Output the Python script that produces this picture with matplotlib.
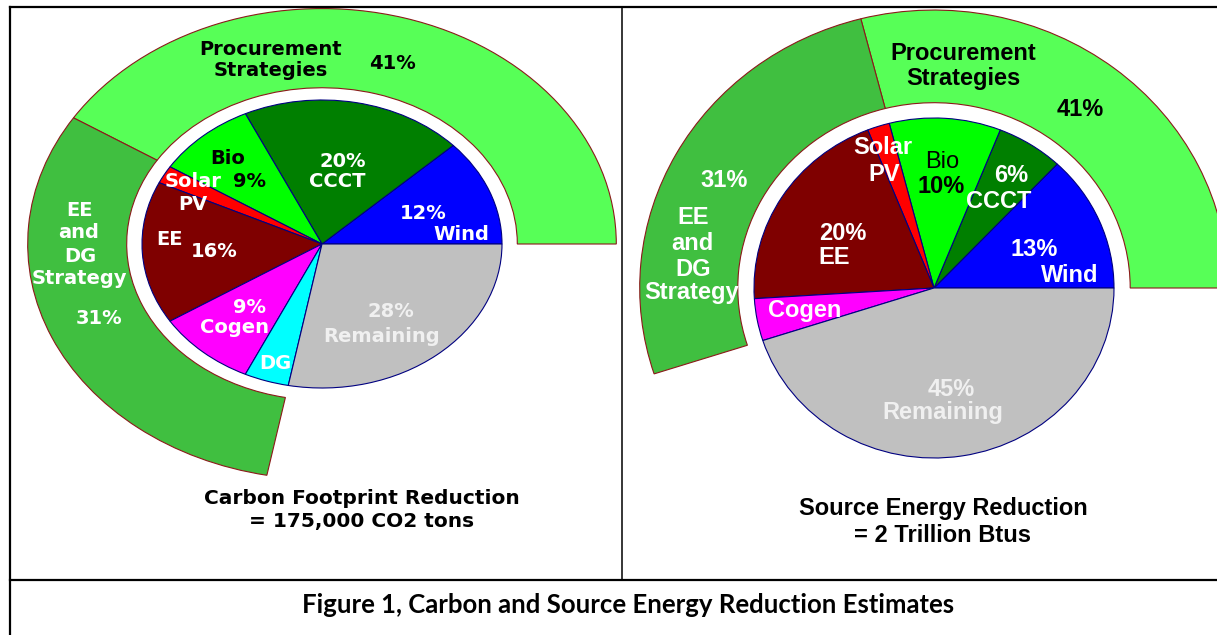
import matplotlib.pyplot as plt
from matplotlib.lines import Line2D

W, H = 1217, 635

# left panel: carbon footprint reduction (percent of total)
left_segments = ["Wind", "CCCT", "Bio", "Solar PV", "EE", "Cogen", "DG", "Remaining"]
left_share = [12, 20, 9, 2, 16, 9, 4, 28]
left_ring = [41, 31, 28]          # procurement, EE and DG strategy, rest

# right panel: source energy reduction
right_segments = ["Wind", "CCCT", "Bio", "Solar PV", "EE", "Cogen", "Remaining"]
right_share = [13, 6, 10, 2, 20, 4, 45]
right_ring = [29, 26, 45]

seg_colors = {"Wind": "#0000FF", "CCCT": "#007F00", "Bio": "#00FF00",
              "Solar PV": "#FF0000", "EE": "#7F0000", "Cogen": "#FF00FF",
              "DG": "#00FFFF", "Remaining": "#C0C0C0"}
ring_colors = ["#57FF57", "#40BF40", "none"]

fig = plt.figure(figsize=(W / 100, H / 100), dpi=100)


def px_axes(x0, y0, x1, y1):
    # pixel box (top-left origin) -> axes
    return fig.add_axes([x0 / W, 1 - y1 / H, (x1 - x0) / W, (y1 - y0) / H])


def draw_chart(ax, share, names, ring, r_in, r_out, xlim, ylim):
    wedges, _ = ax.pie(ring, radius=r_out, colors=ring_colors, startangle=0,
                       wedgeprops=dict(width=r_out - r_in, edgecolor="#8B1A1A", linewidth=0.8))
    wedges[-1].set_visible(False)
    ax.pie(share, radius=1, colors=[seg_colors[n] for n in names], startangle=0,
           wedgeprops=dict(edgecolor="#000080", linewidth=0.8))
    ax.set_aspect("auto")
    ax.set_xlim(*xlim)
    ax.set_ylim(*ylim)
    ax.axis("off")


# left chart: 1 unit = 180 px wide, 144 px tall, centre at (322, 244)
axL = px_axes(10, 7, 622, 580)
draw_chart(axL, left_share, left_segments, left_ring, 1.085, 1.635,
           ((10 - 322) / 180, (622 - 322) / 180), ((244 - 580) / 144, (244 - 7) / 144))

# right chart: 1 unit = 180 px wide, 170 px tall, centre at (934, 288)
axR = px_axes(622, 7, 1217, 580)
draw_chart(axR, right_share, right_segments, right_ring, 1.09, 1.635,
           ((622 - 934) / 180, (1217 - 934) / 180), ((288 - 580) / 170, (288 - 7) / 170))


def put(px, py, s, size, color="black", family="DejaVu Sans", weight="bold"):
    # py is the middle of the capital letters
    base = py + 0.36 * size * 100 / 72
    fig.text(px / W, 1 - base / H, s, ha="center", va="baseline", fontsize=size,
             color=color, family=family, fontweight=weight)


WH = "white"
LG = "#F0F0F0"

# left labels
L = 14
for x, y, s, c in [(271, 48, "Procurement", "black"), (271, 69, "Strategies", "black"),
                   (392, 62, "41%", "black"),
                   (80, 209, "EE", WH), (79, 231, "and", WH), (80, 255, "DG", WH),
                   (79, 277, "Strategy", WH), (99, 317, "31%", WH),
                   (228, 157, "Bio", "black"), (250, 180, "9%", "black"),
                   (343, 160, "20%", WH), (337, 180, "CCCT", WH),
                   (423, 212, "12%", WH), (461, 233, "Wind", WH),
                   (193, 180, "Solar", WH), (193, 203, "PV", WH),
                   (170, 238, "EE", WH), (214, 250, "16%", WH),
                   (250, 306, "9%", WH), (235, 326, "Cogen", WH),
                   (275, 362, "DG", WH),
                   (391, 310, "28%", LG), (382, 335, "Remaining", LG)]:
    put(x, y, s, L, c)
put(362, 497, "Carbon Footprint Reduction", 14.5)
put(362, 520, "= 175,000 CO2 tons", 14.5)

# right labels
R = 17
RF = "Liberation Sans"
for x, y, s, c in [(963, 51, "Procurement", "black"), (963, 76, "Strategies", "black"),
                   (1080, 108, "41%", "black"), (724, 179, "31%", WH),
                   (693, 215, "EE", WH), (692, 241, "and", WH), (693, 267, "DG", WH),
                   (692, 290, "Strategy", WH),
                   (883, 146, "Solar", WH), (884, 172, "PV", WH),
                   (941, 185, "10%", "black"),
                   (1011, 173, "6%", WH), (999, 200, "CCCT", WH),
                   (843, 232, "20%", WH), (834, 255, "EE", WH),
                   (1034, 248, "13%", WH), (1070, 273, "Wind", WH),
                   (805, 308, "Cogen", WH),
                   (951, 388, "45%", LG), (943, 410, "Remaining", LG),
                   (943, 506, "Source Energy Reduction", "black"),
                   (943, 533, "= 2 Trillion Btus", "black")]:
    put(x, y, s, R, c, family=RF)
put(942, 160, "Bio", R, "black", family=RF, weight="normal")

# caption
put(628, 604, "Figure 1, Carbon and Source Energy Reduction Estimates", 18.5, family="Lato")

# table borders
for (x0, y0, x1, y1, lw) in [(10, 7, 1217, 7, 1.6), (10, 7, 10, 635, 1.6),
                             (622, 7, 622, 580, 1.1), (10, 580, 1217, 580, 1.6)]:
    fig.add_artist(Line2D([x0 / W, x1 / W], [1 - y0 / H, 1 - y1 / H],
                          transform=fig.transFigure, color="black", lw=lw))

fig.savefig("out.png", dpi=100)
